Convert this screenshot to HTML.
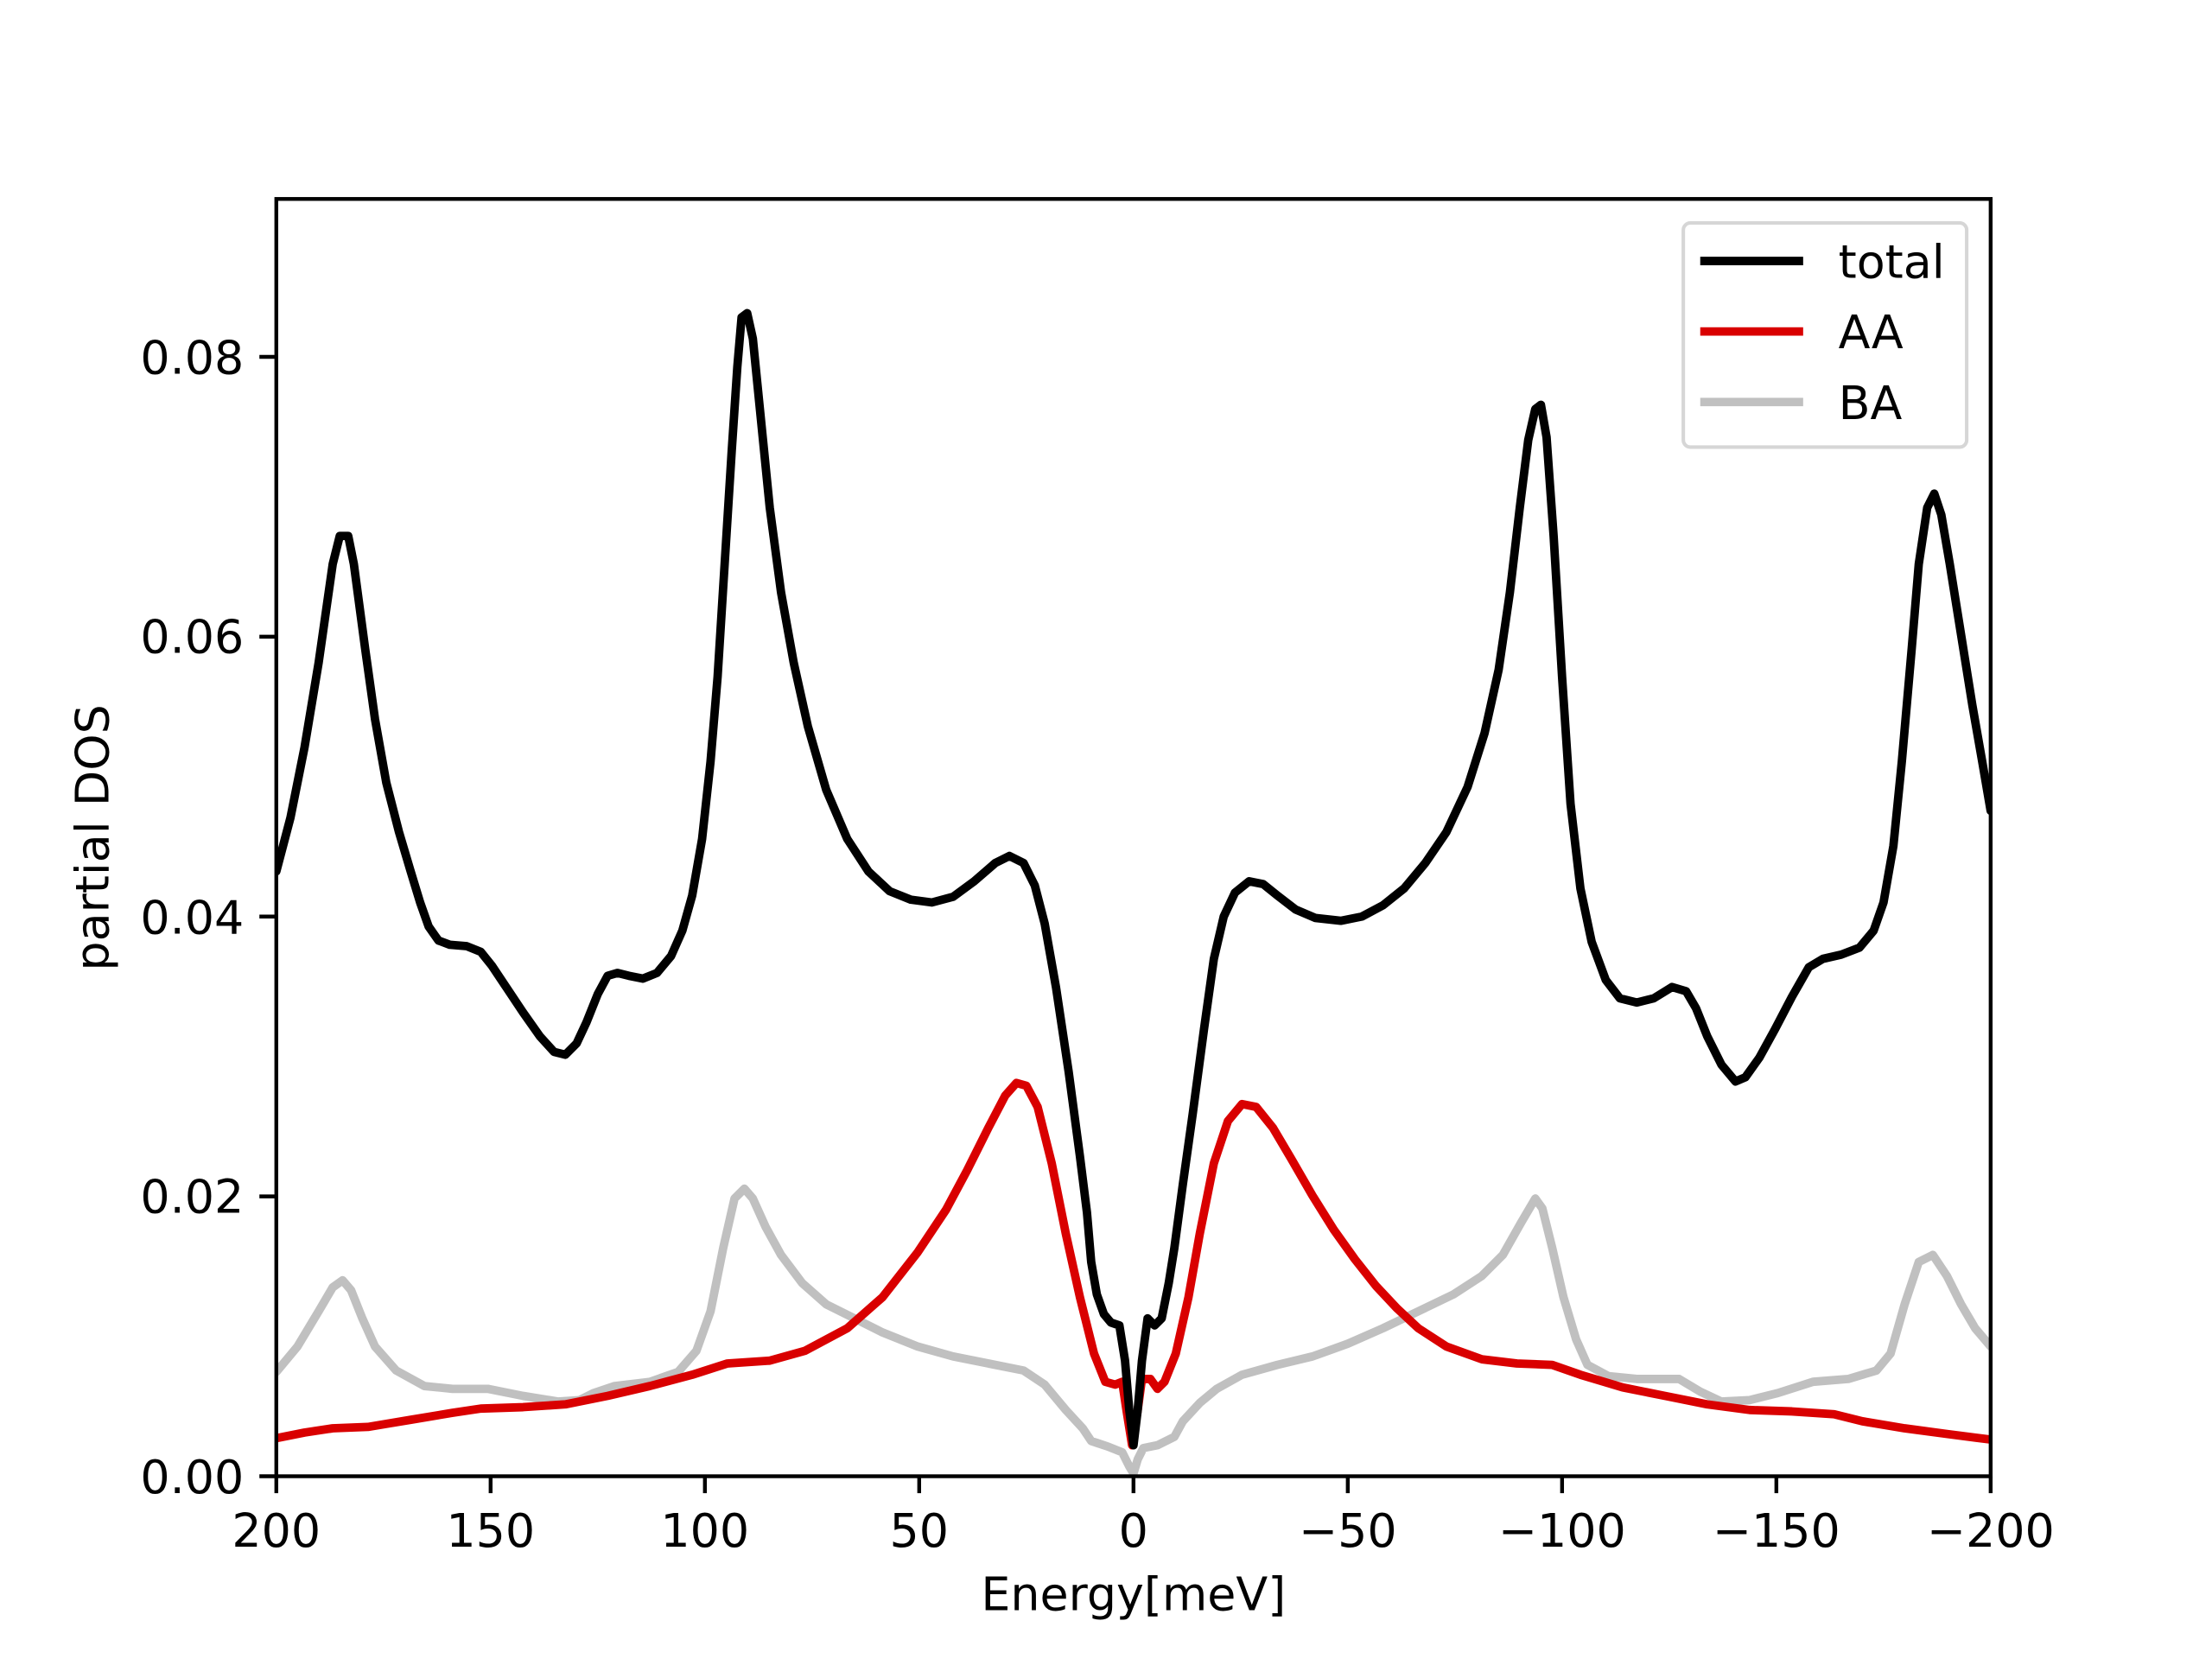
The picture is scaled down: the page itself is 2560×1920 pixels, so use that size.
<!DOCTYPE html>
<html><head><meta charset="utf-8"><style>
html,body{margin:0;padding:0;background:#fff;}
svg{display:block;}
text{font-family:"DejaVu Sans","Liberation Sans",sans-serif;font-size:33px;fill:#000;}
</style></head><body>
<svg width="2560" height="1920" viewBox="-1 0 1569 1176.5" xmlns="http://www.w3.org/2000/svg">
<rect x="-1" y="0" width="1569" height="1177" fill="#fff"/>
<defs><clipPath id="c"><rect x="195" y="141" width="1216" height="906"/></clipPath></defs>
<g clip-path="url(#c)" fill="none" stroke-linejoin="round" stroke-linecap="round" stroke-width="6">
<polyline stroke="#c0c0c0" points="195,973 210,955 225,930 235,913 242,908 248,915 256,935 265,955 280,972 300,983 320,985 345,985 370,990 395,994 410,993 420,988 435,983 460,980 480,973 493,958 503,930 512,885 520,850 527,843 533,850 542,870 553,890 568,910 585,925 605,935 625,945 650,955 675,962 700,967 725,972 740,982 755,1000 767,1013 773,1022 785,1026 795,1030 800,1040 803,1045 806,1035 810,1027 820,1025 832,1019 838,1008 850,995 862,985 880,975 905,968 930,962 955,953 980,942 1005,930 1030,918 1050,905 1065,890 1078,867 1088,850 1093,857 1100,885 1108,920 1117,950 1125,968 1140,976 1160,978 1190,978 1205,987 1220,994 1240,993 1260,988 1285,980 1310,978 1330,972 1340,960 1350,925 1360,895 1370,890 1380,905 1390,925 1400,942 1411,955"/>
<polyline stroke="#d90000" points="195,1020 215,1016 235,1013 260,1012 290,1007 320,1002 340,999 370,998 400,996 430,990 460,983 490,975 515,967 545,965 570,958 600,942 625,920 650,888 670,858 685,830 700,800 712,777 720,768 727,770 735,785 745,825 755,875 765,920 775,960 783,980 790,982 795,980 798,1000 802,1025 806,1000 809,978 815,978 820,985 825,980 833,960 842,920 850,875 860,825 870,795 880,783 890,785 902,800 915,822 930,848 945,872 960,893 975,912 990,928 1005,942 1025,955 1050,964 1075,967 1100,968 1120,975 1150,984 1180,990 1210,996 1240,1000 1270,1001 1300,1003 1320,1008 1350,1013 1380,1017 1411,1021"/>
<polyline stroke="#000" points="195,618 205,580 215,530 225,470 235,400 240,380 246,380 250,400 258,460 265,510 273,555 282,590 290,617 297,640 303,657 310,667 318,670 330,671 340,675 348,685 358,700 370,718 382,735 392,746 400,748 408,740 415,725 423,705 430,692 437,690 445,692 455,694 465,690 475,678 483,660 490,635 497,595 503,540 508,480 513,400 518,320 522,260 525,225 529,222 533,240 538,290 545,360 553,420 562,470 572,515 585,560 600,595 615,618 630,632 645,638 660,640 675,636 690,625 705,612 715,607 725,612 733,628 740,655 748,700 757,760 765,820 770,860 773,895 777,918 782,932 787,938 793,940 797,965 800,1000 803,1025 806,1000 809,965 813,935 818,940 823,935 828,910 832,885 838,840 845,790 853,730 860,680 867,650 875,633 885,625 895,627 905,635 918,645 932,651 950,653 965,650 980,642 995,630 1010,612 1025,590 1040,558 1052,520 1062,475 1070,420 1077,360 1083,312 1088,290 1092,287 1096,310 1101,380 1107,480 1113,570 1120,630 1128,668 1138,695 1148,708 1160,711 1172,708 1185,700 1195,703 1202,715 1210,735 1220,755 1230,767 1237,764 1247,750 1258,730 1270,707 1282,686 1292,680 1305,677 1318,672 1328,660 1335,640 1342,600 1348,540 1355,460 1360,400 1366,360 1371,350 1376,365 1382,400 1390,450 1398,500 1405,540 1411,575"/>
</g>
<rect x="195" y="141" width="1216" height="906" fill="none" stroke="#000" stroke-width="2.7"/>
<g stroke="#000" stroke-width="2.7">
<line x1="195" y1="1047" x2="195" y2="1059"/><line x1="347" y1="1047" x2="347" y2="1059"/><line x1="499" y1="1047" x2="499" y2="1059"/><line x1="651" y1="1047" x2="651" y2="1059"/><line x1="803" y1="1047" x2="803" y2="1059"/><line x1="955" y1="1047" x2="955" y2="1059"/><line x1="1107" y1="1047" x2="1107" y2="1059"/><line x1="1259" y1="1047" x2="1259" y2="1059"/><line x1="1411" y1="1047" x2="1411" y2="1059"/>
<line x1="183" y1="1047" x2="195" y2="1047"/><line x1="183" y1="848.5" x2="195" y2="848.5"/><line x1="183" y1="650" x2="195" y2="650"/><line x1="183" y1="451.5" x2="195" y2="451.5"/><line x1="183" y1="253" x2="195" y2="253"/>
</g>
<g text-anchor="middle">
<text x="195" y="1097">200</text><text x="347" y="1097">150</text><text x="499" y="1097">100</text><text x="651" y="1097">50</text><text x="803" y="1097">0</text><text x="955" y="1097">−50</text><text x="1107" y="1097">−100</text><text x="1259" y="1097">−150</text><text x="1411" y="1097">−200</text>
<text x="803" y="1142">Energy[meV]</text>
<text transform="translate(76,594) rotate(-90)">partial DOS</text>
</g>
<g text-anchor="end">
<text x="172" y="1059">0.00</text><text x="172" y="860">0.02</text><text x="172" y="662">0.04</text><text x="172" y="463">0.06</text><text x="172" y="265">0.08</text>
</g>
<rect x="1193" y="158" width="201" height="159" rx="5" fill="#fff" fill-opacity="0.8" stroke="#d6d6d6" stroke-width="2.5"/>
<g stroke-width="6">
<line x1="1205" y1="185" x2="1278" y2="185" stroke="#000"/>
<line x1="1205" y1="235" x2="1278" y2="235" stroke="#d90000"/>
<line x1="1205" y1="285" x2="1278" y2="285" stroke="#c0c0c0"/>
</g>
<text x="1303" y="197">total</text><text x="1303" y="247">AA</text><text x="1303" y="297">BA</text>
</svg>
</body></html>
